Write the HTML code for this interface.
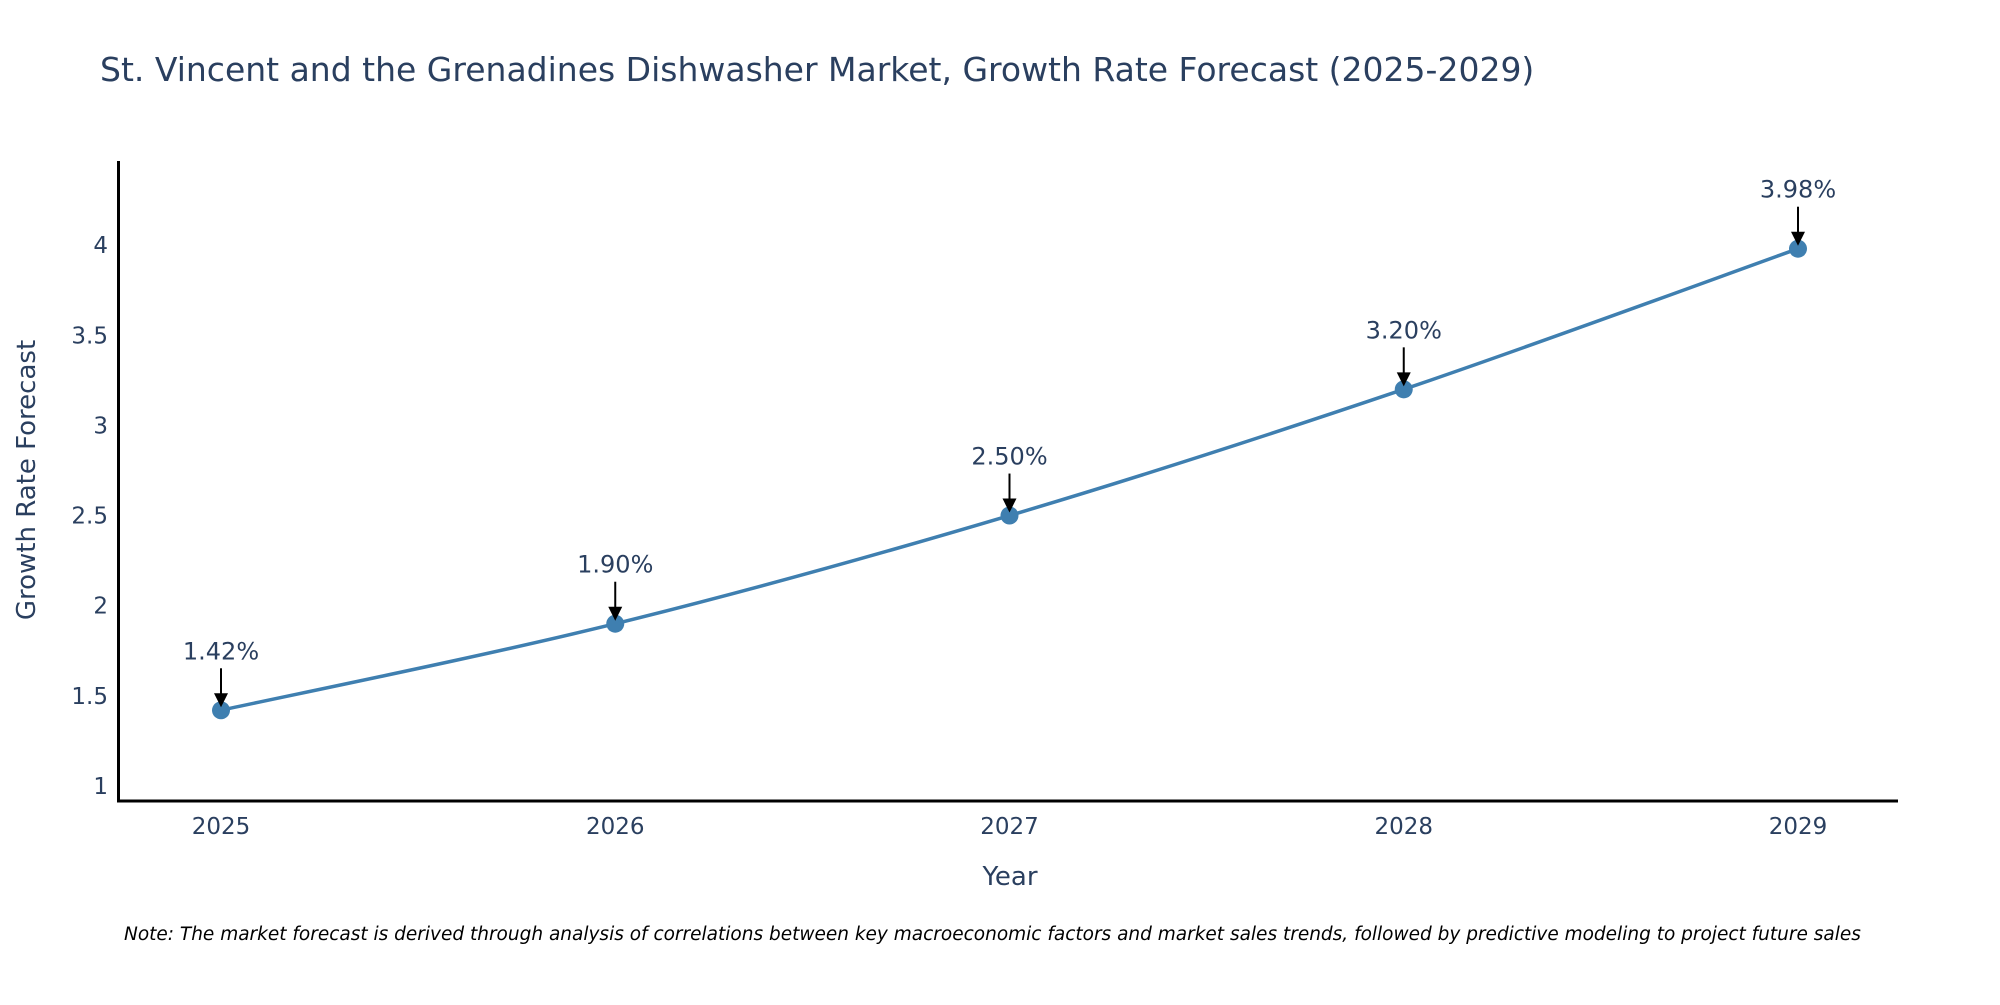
<!DOCTYPE html>
<html><head><meta charset="utf-8"><style>
body{margin:0;background:#fff;width:2000px;height:1000px;overflow:hidden}
svg text{font-family:"DejaVu Sans","Liberation Sans",sans-serif}
</style></head><body>
<svg id="chart" width="2000" height="1000" xmlns="http://www.w3.org/2000/svg">
<text x="100" y="81" font-size="33" fill="#2a3f5f">St. Vincent and the Grenadines Dishwasher Market, Growth Rate Forecast (2025-2029)</text>
<g id="yticks"></g>
<g id="xticks"></g>
<path id="line" fill="none" stroke="#3f7fb0" stroke-width="3.5"/>
<g id="marks"></g>
<line x1="118.5" y1="161" x2="118.5" y2="802" stroke="#000" stroke-width="3"/>
<line x1="117" y1="801" x2="1898" y2="801" stroke="#000" stroke-width="3"/>
<text transform="translate(35,480) rotate(-90)" text-anchor="middle" font-size="26" fill="#2a3f5f">Growth Rate Forecast</text>
<text x="1010" y="885" text-anchor="middle" font-size="26" fill="#2a3f5f">Year</text>
<text x="124" y="940" font-size="18.5" font-style="italic" fill="#000">Note: The market forecast is derived through analysis of correlations between key macroeconomic factors and market sales trends, followed by predictive modeling to project future sales</text>
</svg>
<script>
const years=[2025,2026,2027,2028,2029];
const values=[1.42,1.90,2.50,3.20,3.98];
const labels=["1.42%","1.90%","2.50%","3.20%","3.98%"];
const yTicks=[1,1.5,2,2.5,3,3.5,4];
const NS="http://www.w3.org/2000/svg";
const x=v=>221+(v-2025)*394.25;
const y=v=>786-(v-1)*180.3;
function mk(t,a,p){const e=document.createElementNS(NS,t);for(const k in a)e.setAttribute(k,a[k]);p.appendChild(e);return e;}
const yt=document.getElementById('yticks');
yTicks.forEach(t=>{const e=mk('text',{x:108,y:y(t)+8,'text-anchor':'end','font-size':23,fill:'#2a3f5f'},yt);e.textContent=String(t);

});
const xt=document.getElementById('xticks');
years.forEach(t=>{const e=mk('text',{x:x(t),y:834,'text-anchor':'middle','font-size':23,fill:'#2a3f5f'},xt);e.textContent=String(t);

});
const P=years.map((t,i)=>[x(t),y(values[i])]);
let d=`M${P[0][0]},${P[0][1]}`;
for(let i=0;i<P.length-1;i++){const p0=P[Math.max(i-1,0)],p1=P[i],p2=P[i+1],p3=P[Math.min(i+2,P.length-1)];const s=6;
d+=` C${p1[0]+(p2[0]-p0[0])/s},${p1[1]+(p2[1]-p0[1])/s} ${p2[0]-(p3[0]-p1[0])/s},${p2[1]-(p3[1]-p1[1])/s} ${p2[0]},${p2[1]}`;}
document.getElementById('line').setAttribute('d',d);
const m=document.getElementById('marks');
P.forEach((p,i)=>{
const c=mk('circle',{cx:p[0],cy:p[1],r:9,fill:'#3f7fb0'},m);


const l=mk('line',{x1:p[0],y1:p[1]-42,x2:p[0],y2:p[1]-16,stroke:'#000','stroke-width':2},m);


const h=mk('polygon',{points:`${p[0]-7},${p[1]-17} ${p[0]+7},${p[1]-17} ${p[0]},${p[1]-3}`,fill:'#000'},m);


const t=mk('text',{x:p[0],y:p[1]-51,'text-anchor':'middle','font-size':24,fill:'#2a3f5f'},m);t.textContent=labels[i];


});
</script>
</body></html>
